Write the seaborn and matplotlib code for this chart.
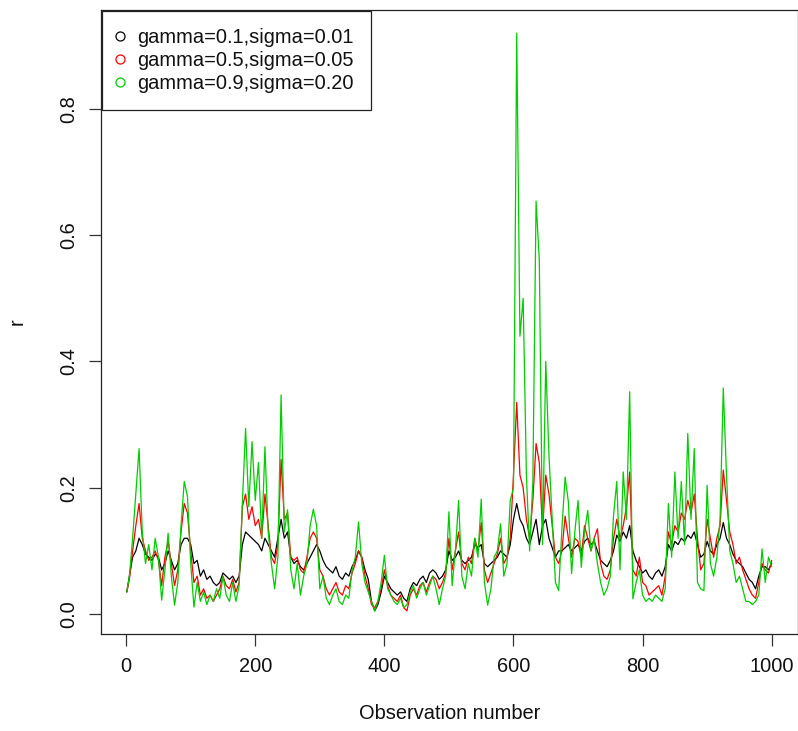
import matplotlib
matplotlib.use("Agg")
import matplotlib.pyplot as plt
from matplotlib.lines import Line2D
import numpy as np
import pandas as pd
import seaborn as sns

# Observation numbers (every 5th observation)
obs = [1] + list(range(5, 1001, 5))

# Estimated r for each parameter setting
r_g01 = [
    0.035, 0.06, 0.09, 0.10, 0.12, 0.11, 0.095, 0.09, 0.085, 0.095,
    0.09, 0.07, 0.08, 0.10, 0.085, 0.07, 0.08, 0.11, 0.12, 0.12,
    0.11, 0.08, 0.085, 0.06, 0.07, 0.055, 0.06, 0.05, 0.045, 0.05,
    0.065, 0.06, 0.055, 0.06, 0.05, 0.06, 0.11, 0.13, 0.125, 0.12,
    0.115, 0.11, 0.10, 0.12, 0.11, 0.10, 0.09, 0.12, 0.15, 0.12,
    0.13, 0.09, 0.08, 0.085, 0.075, 0.07, 0.08, 0.09, 0.10, 0.11,
    0.10, 0.085, 0.075, 0.07, 0.065, 0.075, 0.06, 0.055, 0.065, 0.06,
    0.075, 0.085, 0.10, 0.09, 0.07, 0.055, 0.02, 0.005, 0.015, 0.035,
    0.06, 0.05, 0.04, 0.035, 0.03, 0.035, 0.025, 0.02, 0.04, 0.05,
    0.045, 0.055, 0.06, 0.05, 0.065, 0.07, 0.065, 0.055, 0.06, 0.07,
    0.10, 0.085, 0.09, 0.10, 0.085, 0.08, 0.085, 0.09, 0.11, 0.105,
    0.11, 0.08, 0.075, 0.08, 0.085, 0.09, 0.10, 0.095, 0.09, 0.11,
    0.15, 0.175, 0.15, 0.14, 0.12, 0.11, 0.13, 0.15, 0.11, 0.14,
    0.15, 0.12, 0.105, 0.09, 0.10, 0.10, 0.105, 0.11, 0.10, 0.105,
    0.11, 0.10, 0.115, 0.12, 0.11, 0.115, 0.10, 0.085, 0.08, 0.075,
    0.085, 0.10, 0.125, 0.115, 0.13, 0.12, 0.14, 0.10, 0.085, 0.075,
    0.065, 0.07, 0.06, 0.055, 0.065, 0.07, 0.06, 0.075, 0.11, 0.10,
    0.115, 0.11, 0.12, 0.115, 0.125, 0.12, 0.13, 0.11, 0.09, 0.095,
    0.115, 0.10, 0.095, 0.11, 0.12, 0.145, 0.12, 0.11, 0.095, 0.085,
    0.08, 0.075, 0.065, 0.055, 0.05, 0.04, 0.06, 0.075, 0.075, 0.07,
    0.08,
]

r_g05 = [
    0.035, 0.055, 0.10, 0.14, 0.175, 0.12, 0.10, 0.085, 0.09, 0.10,
    0.085, 0.045, 0.09, 0.115, 0.08, 0.045, 0.07, 0.13, 0.175, 0.16,
    0.10, 0.05, 0.06, 0.03, 0.04, 0.025, 0.03, 0.02, 0.03, 0.04,
    0.06, 0.045, 0.04, 0.055, 0.035, 0.05, 0.17, 0.19, 0.15, 0.17,
    0.14, 0.15, 0.12, 0.19, 0.14, 0.09, 0.08, 0.11, 0.245, 0.15,
    0.16, 0.09, 0.085, 0.09, 0.07, 0.065, 0.09, 0.12, 0.13, 0.12,
    0.07, 0.06, 0.04, 0.03, 0.04, 0.05, 0.035, 0.03, 0.045, 0.04,
    0.065, 0.08, 0.10, 0.09, 0.06, 0.04, 0.015, 0.01, 0.02, 0.04,
    0.07, 0.045, 0.03, 0.025, 0.02, 0.03, 0.01, 0.005, 0.03, 0.04,
    0.03, 0.045, 0.05, 0.035, 0.05, 0.06, 0.055, 0.04, 0.05, 0.065,
    0.12, 0.07, 0.10, 0.13, 0.08, 0.07, 0.09, 0.08, 0.12, 0.10,
    0.145, 0.07, 0.05, 0.065, 0.08, 0.095, 0.12, 0.08, 0.09, 0.12,
    0.22, 0.335, 0.22, 0.20, 0.15, 0.12, 0.18, 0.27, 0.24, 0.13,
    0.22, 0.19, 0.14, 0.09, 0.08, 0.10, 0.155, 0.12, 0.09, 0.12,
    0.115, 0.09, 0.14, 0.12, 0.10, 0.12, 0.135, 0.08, 0.06, 0.055,
    0.07, 0.12, 0.15, 0.12, 0.14, 0.17, 0.225, 0.07, 0.06, 0.09,
    0.05, 0.045, 0.03, 0.035, 0.04, 0.045, 0.03, 0.06, 0.13, 0.11,
    0.14, 0.13, 0.16, 0.15, 0.18, 0.16, 0.19, 0.12, 0.07, 0.08,
    0.15, 0.12, 0.09, 0.12, 0.14, 0.228, 0.18, 0.13, 0.11, 0.08,
    0.09, 0.07, 0.055, 0.04, 0.03, 0.025, 0.05, 0.08, 0.07, 0.065,
    0.085,
]

r_g09 = [
    0.035, 0.06, 0.12, 0.19, 0.262, 0.13, 0.08, 0.11, 0.07, 0.12,
    0.09, 0.022, 0.07, 0.128, 0.06, 0.014, 0.05, 0.14, 0.21, 0.186,
    0.08, 0.011, 0.05, 0.02, 0.035, 0.015, 0.03, 0.02, 0.04, 0.025,
    0.06, 0.03, 0.02, 0.05, 0.02, 0.045, 0.175, 0.294, 0.17, 0.273,
    0.18, 0.24, 0.12, 0.265, 0.13, 0.08, 0.04, 0.09, 0.347, 0.13,
    0.165, 0.07, 0.04, 0.08, 0.03, 0.06, 0.08, 0.14, 0.166, 0.14,
    0.04, 0.06, 0.025, 0.015, 0.03, 0.04, 0.02, 0.015, 0.03, 0.025,
    0.07, 0.09, 0.146, 0.08, 0.05, 0.035, 0.02, 0.005, 0.02, 0.05,
    0.093, 0.04, 0.03, 0.02, 0.015, 0.025, 0.01, 0.015, 0.035, 0.045,
    0.025, 0.04, 0.05, 0.03, 0.045, 0.06, 0.04, 0.015, 0.04, 0.06,
    0.162, 0.045, 0.10, 0.18, 0.06, 0.04, 0.08, 0.06, 0.12, 0.09,
    0.182, 0.05, 0.014, 0.04, 0.09, 0.10, 0.143, 0.06, 0.08, 0.18,
    0.20, 0.92, 0.44, 0.50, 0.22, 0.10, 0.21, 0.654, 0.56, 0.11,
    0.40, 0.25, 0.15, 0.05, 0.037, 0.135, 0.217, 0.178, 0.064, 0.13,
    0.18, 0.074, 0.13, 0.164, 0.10, 0.12, 0.08, 0.05, 0.03, 0.04,
    0.06, 0.156, 0.21, 0.07, 0.225, 0.15, 0.352, 0.024, 0.05, 0.07,
    0.03, 0.02, 0.025, 0.02, 0.03, 0.025, 0.02, 0.04, 0.175, 0.09,
    0.225, 0.12, 0.21, 0.11, 0.286, 0.15, 0.262, 0.05, 0.04, 0.037,
    0.204, 0.08, 0.06, 0.09, 0.15, 0.358, 0.22, 0.10, 0.08, 0.05,
    0.06, 0.04, 0.02, 0.02, 0.015, 0.02, 0.03, 0.103, 0.05, 0.09,
    0.075,
]

labels = ["gamma=0.1,sigma=0.01", "gamma=0.5,sigma=0.05", "gamma=0.9,sigma=0.20"]
colors = ["#000000", "#FF0000", "#00CD00"]

df = pd.concat(
    [pd.DataFrame({"obs": obs, "r": vals, "series": lab})
     for vals, lab in zip([r_g01, r_g05, r_g09], labels)],
    ignore_index=True,
)

sns.set_style("white")
plt.rcParams["font.family"] = ["Liberation Sans", "DejaVu Sans"]
FS = 14.4

W, H = 798, 731
fig = plt.figure(figsize=(W / 100, H / 100), dpi=100)
ax = fig.add_axes([101 / W, 1 - 634 / H, 696.5 / W, 624 / H])

sns.lineplot(
    data=df, x="obs", y="r", hue="series", hue_order=labels,
    palette=colors, estimator=None, sort=False, legend=False,
    linewidth=0.9, ax=ax,
)

# R-style 4% padding around the data range
xmin, xmax = min(obs), max(obs)
ymin, ymax = df["r"].min(), df["r"].max()
xpad = 0.04 * (xmax - xmin)
ypad = 0.04 * (ymax - ymin)
ax.set_xlim(xmin - xpad, xmax + xpad)
ax.set_ylim(ymin - ypad, ymax + ypad)

ax.set_xticks([0, 200, 400, 600, 800, 1000])
ax.set_yticks([0.0, 0.2, 0.4, 0.6, 0.8])
ax.set_yticklabels(["0.0", "0.2", "0.4", "0.6", "0.8"], rotation=90, va="center")
ax.tick_params(axis="both", which="major", bottom=True, left=True,
               top=False, right=False, direction="out", length=8.6,
               width=0.9, labelsize=FS, color="#333333", labelcolor="#111111",
               pad=8.0)

for s in ax.spines.values():
    s.set_visible(True)
    s.set_color("#222222")
    s.set_linewidth(0.9)

ax.set_xlabel("Observation number", fontsize=FS, color="#111111")
ax.set_ylabel("r", fontsize=FS, color="#111111")
ax.xaxis.set_label_coords(0.5, -0.128)
ax.xaxis.label.set_va("center")
ax.yaxis.set_label_coords(-0.12, 0.5)
ax.yaxis.label.set_va("center")

handles = [
    Line2D([], [], linestyle="none", marker="o", markersize=6.5,
           markerfacecolor="none", markeredgecolor=c, markeredgewidth=0.9)
    for c in colors
]
leg = ax.legend(
    handles, labels, loc="upper left", bbox_to_anchor=(0.0, 1.0),
    borderaxespad=0.05, fontsize=FS, frameon=True, fancybox=False,
    handlelength=0.1, handletextpad=0.82, labelspacing=0.2, borderpad=0.85,
)
leg.get_frame().set_edgecolor("#222222")
leg.get_frame().set_linewidth(0.9)
leg.get_frame().set_alpha(1.0)
for t in leg.get_texts():
    t.set_color("#111111")

fig.savefig("out.png", dpi=100)
